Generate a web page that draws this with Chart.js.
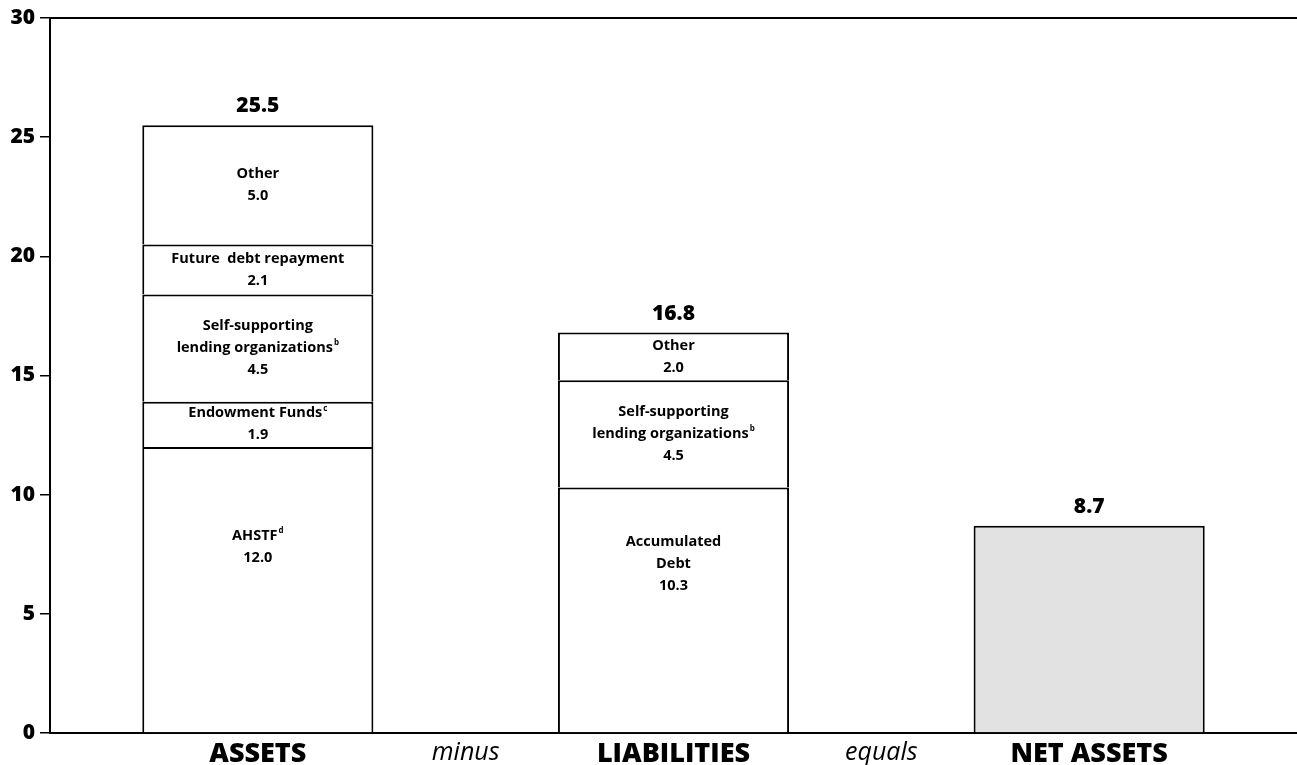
<!DOCTYPE html>
<html><head><meta charset="utf-8">
<script src="https://cdn.jsdelivr.net/npm/chart.js@4/dist/chart.umd.min.js"></script>
<style>html,body{margin:0;padding:0;background:#fff}#wrap{width:1297px;height:765px;position:relative}</style>
</head><body><div id="wrap"><canvas id="c"></canvas></div>
<script>
// ---- data ----
const categories = ['ASSETS', 'LIABILITIES', 'NET ASSETS'];
const connectors = ['minus', 'equals'];
const yTicks = [0, 5, 10, 15, 20, 25, 30];
const totals = [25.5, 16.8, 8.7];
// segments, bottom to top
const assetsValues = [12.0, 1.9, 4.5, 2.1, 5.0];
const assetsLabels = [['AHSTF|d'], ['Endowment Funds|c'], ['Self-supporting', 'lending organizations|b'], ['Future  debt repayment'], ['Other']];
const liabilitiesValues = [10.3, 4.5, 2.0];
const liabilitiesLabels = [['Accumulated', 'Debt'], ['Self-supporting', 'lending organizations|b'], ['Other']];
const netAssetsValues = [8.7];
const netAssetsLabels = [null];

// ---- build ----
const columnValues = [assetsValues, liabilitiesValues, netAssetsValues];
const columnLabels = [assetsLabels, liabilitiesLabels, netAssetsLabels];
const levels = Math.max(...columnValues.map(a => a.length));
const fills = ['#ffffff', '#ffffff', '#e2e2e2'];
const datasets = [];
for (let lv = 0; lv < levels; lv++) {
  datasets.push({
    data: columnValues.map(a => a[lv] === undefined ? null : a[lv]),
    segLabels: columnLabels.map(a => a[lv] === undefined ? null : a[lv]),
    backgroundColor: fills,
    borderColor: '#000',
    borderSkipped: false,
    borderWidth: {left: 2, right: 2, bottom: 0, top: 2},
    barPercentage: 0.556,
    categoryPercentage: 1
  });
}

const FONT = '"Open Sans", "DejaVu Sans", sans-serif';
// label anchor overrides (value on y axis where label block is centred), keyed "dataset-index"
const labelAnchors = {'0-0': 7.8, '0-1': 7.1};

const drawPlugin = {
  id: 'extras',
  afterDraw(chart) {
    const ctx = chart.ctx, ca = chart.chartArea;
    const x = chart.scales.x, y = chart.scales.y;
    ctx.save();
    // top frame line
    ctx.strokeStyle = '#000'; ctx.lineWidth = 2;
    ctx.beginPath(); ctx.moveTo(ca.left - 1, ca.top); ctx.lineTo(ca.right, ca.top); ctx.stroke();

    // segment labels
    ctx.fillStyle = '#000';
    ctx.textBaseline = 'middle';
    const lh = 22;
    chart.data.datasets.forEach((ds, di) => {
      const meta = chart.getDatasetMeta(di);
      meta.data.forEach((bar, i) => {
        const lines = ds.segLabels[i];
        if (!lines || ds.data[i] == null) return;
        const all = lines.concat([ds.data[i].toFixed(1)]);
        const key = di + '-' + i;
        const cy = labelAnchors[key] !== undefined ? y.getPixelForValue(labelAnchors[key]) : (bar.y + bar.base) / 2;
        const y0 = cy - (all.length - 1) * lh / 2;
        all.forEach((ln, k) => {
          const parts = ln.split('|');
          ctx.font = 'bold 14.5px ' + FONT;
          const w1 = ctx.measureText(parts[0]).width;
          let w2 = 0;
          if (parts[1]) { ctx.font = 'bold 8px ' + FONT; w2 = ctx.measureText(parts[1]).width + 1; }
          const sx = bar.x - (w1 + w2) / 2;
          ctx.textAlign = 'left';
          ctx.font = 'bold 14.5px ' + FONT;
          ctx.fillText(parts[0], sx, y0 + k * lh);
          if (parts[1]) { ctx.font = 'bold 8px ' + FONT; ctx.fillText(parts[1], sx + w1 + 1, y0 + k * lh - 5); }
        });
      });
    });

    // totals above bars
    ctx.textAlign = 'center';
    ctx.font = '800 21px ' + FONT;
    totals.forEach((t, i) => {
      ctx.fillText(t.toFixed(1), x.getPixelForValue(i), y.getPixelForValue(t) - 19);
    });

    // connector words
    ctx.font = 'italic 25px ' + FONT;
    ctx.textBaseline = 'alphabetic';
    connectors.forEach((w, i) => {
      ctx.fillText(w, x.getPixelForValue(i + 0.5), 760);
    });
    ctx.restore();
  }
};

new Chart(document.getElementById('c'), {
  type: 'bar',
  data: {labels: categories, datasets},
  plugins: [drawPlugin],
  options: {
    responsive: true, maintainAspectRatio: false, animation: false,
    layout: {padding: {top: 18, right: 0, left: 0, bottom: 0}},
    plugins: {legend: {display: false}, tooltip: {enabled: false}},
    scales: {
      x: {
        stacked: true,
        grid: {display: false, drawTicks: false},
        border: {display: true, color: '#000', width: 2},
        ticks: {color: '#000', font: {family: FONT, size: 27, weight: '800'}, padding: 5, maxRotation: 0},
        afterFit(s) { s.height = 32; }
      },
      y: {
        stacked: true, min: 0, max: 30,
        afterBuildTicks(s) { s.ticks = yTicks.map(v => ({value: v})); },
        grid: {drawOnChartArea: false, drawTicks: true, tickLength: 10, color: '#000', lineWidth: 1.5},
        border: {display: true, color: '#000', width: 2},
        ticks: {color: '#000', font: {family: FONT, size: 21, weight: '800'}, padding: 5},
        afterFit(s) { s.width = 50; }
      }
    }
  }
});
</script>
</body></html>
